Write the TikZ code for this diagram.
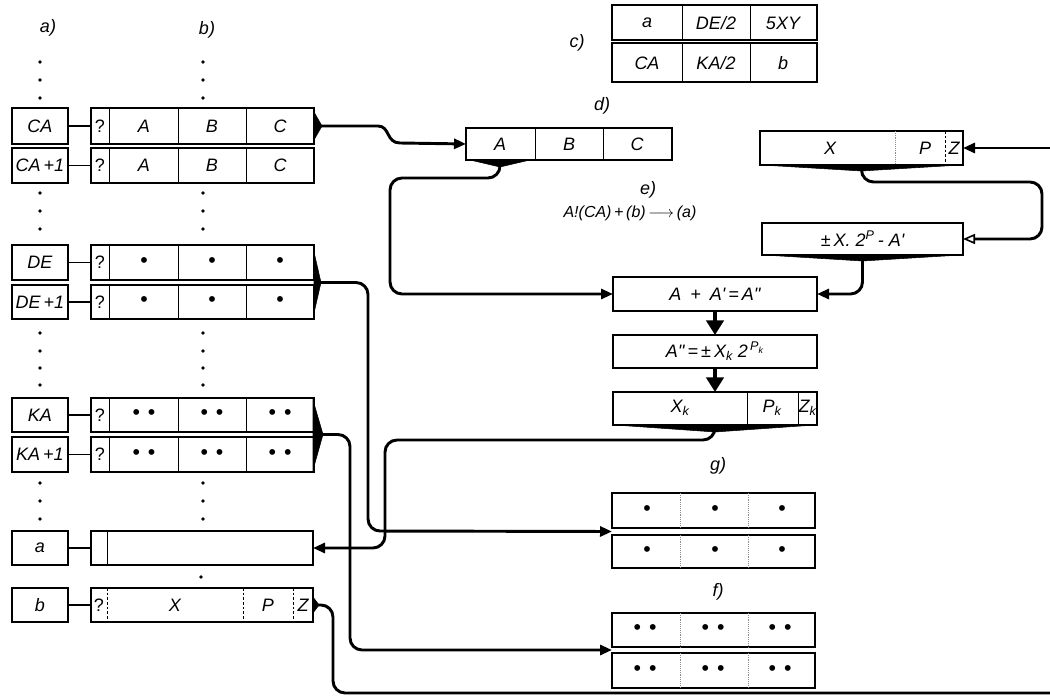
\documentclass[tikz,border=0pt]{standalone}
\usepackage{fontspec}
\newfontfamily\lab{Liberation Sans}
\usetikzlibrary{arrows.meta,calc}
\tikzset{
 box/.style={draw, line width=1.1pt, inner sep=0pt, outer sep=0pt},
 div/.style={line width=0.7pt},
 ddiv/.style={line width=0.7pt, dash pattern=on 2pt off 1.5pt},
 faint/.style={line width=0.4pt, densely dotted, black!45},
 link/.style={line width=0.9pt},
 conn/.style={line width=2.2pt, rounded corners=9pt},
 arr/.style={-{Triangle[length=9pt,width=7.5pt]}},
 oarr/.style={-{Triangle[open,length=9pt,width=7.5pt,line width=1.2pt]}},
 darr/.style={line width=2.6pt,-{Triangle[length=11pt,width=13pt]}},
 wedge/.style={fill=black, draw=black, line width=0.4pt},
 txt/.style={inner sep=0pt},
}
% \bx{name}{x1}{y1}{x2}{y2}{text}
\newcommand\bx[6]{%
  \node[box, minimum width={(#4-#2)*0.75pt}, minimum height={(#5-#3)*0.75pt}]
    (#1) at ({(#2+#4)/2},{(#3+#5)/2}) {#6};}
\newcommand\wordrow[7]{%
  \bx{#1addr}{12}{#2}{68}{#3}{#4}
  \bx{#1}{91}{#2}{314}{#3}{}
  \draw[link] (#1addr.east) -- (#1.west);
  \draw[div] (109,#2) -- (109,#3) (178,#2) -- (178,#3) (246,#2) -- (246,#3);
  \path (#1.west) ++(9,0) node[txt] (#1q) {\upshape ?};
  \path (#1.west) ++(53,0) node[txt] (#1A) {#5};
  \path (#1.west) ++(121,0) node[txt] (#1B) {#6};
  \path (#1.west) ++(189,0) node[txt] (#1C) {#7};
}
\newcommand\one{{\upshape\fontsize{16}{16}\selectfont\textbullet}}
\newcommand\two{{\upshape\fontsize{16}{16}\selectfont\textbullet\hspace{6pt}\textbullet}}
\begin{document}
\begin{tikzpicture}[x=0.75pt,y=-0.75pt, font=\lab\itshape\fontsize{13.5}{16}\selectfont]
\useasboundingbox (0,0) rectangle (1050,698);

% column labels
\node[txt] (la) at (48,28) {a)};
\node[txt] (lb) at (207,30) {b)};

% vertical dots
\foreach \y in {62,80,98,193,211,229,333,351,368,385,483,501,519}{
  \fill (40,\y) circle (1.4pt);
  \fill (203,\y) circle (1.4pt);
}
\fill (201,577) circle (1.4pt);

% memory rows
\wordrow{ca}{108}{144}{CA}{A}{B}{C}
\wordrow{cap}{148}{183}{CA\,+1}{A}{B}{C}
\wordrow{de}{245}{280}{DE}{\one}{\one}{\one}
\wordrow{dep}{285}{319}{DE\,+1}{\one}{\one}{\one}
\wordrow{ka}{398}{432}{KA}{\two}{\two}{\two}
\wordrow{kap}{437}{472}{KA\,+1}{\two}{\two}{\two}

% row a
\bx{aaddr}{12}{531}{68}{565}{a}
\bx{a}{91}{531}{313}{565}{}
\draw[link] (aaddr.east) -- (a.west);
\draw[div] (107,531) -- (107,565);

% row b
\bx{baddr}{12}{588}{68}{622}{b}
\bx{b}{91}{588}{313}{622}{}
\draw[link] (baddr.east) -- (b.west);
\draw[ddiv] (107,588) -- (107,622) (243,588) -- (243,622) (293,588) -- (293,622);
\path (b.west) ++(8,0) node[txt] (bq) {\upshape ?};
\node[txt] (bX) at (175,605) {X};
\node[txt] (bP) at (268,605) {P};
\node[txt] (bZ) at (303,605) {Z};

% wedges on memory rows
\fill[wedge] (314,112) -- (322,126) -- (314,140) -- cycle;
\fill[wedge] (314,252) -- (321,282.5) -- (314,313) -- cycle;
\fill[wedge] (313,400) -- (323,434.5) -- (313,470) -- cycle;
\fill[wedge] (313,597) -- (319,605) -- (313,613) -- cycle;

% c) table
\node[txt] (lc) at (577,43) {c)};
\bx{c1}{612}{5}{817}{40}{}
\bx{c2}{612}{43}{817}{82}{}
\draw[div] (682,5) -- (682,40) (750,5) -- (750,40) (682,43) -- (682,82) (750,43) -- (750,82);
\node[txt] (c11) at (647,23) {a};
\node[txt] (c12) at (716,23) {DE/2};
\node[txt] (c13) at (783,23) {5XY};
\node[txt] (c21) at (647,63) {CA};
\node[txt] (c22) at (716,63) {KA/2};
\node[txt] (c23) at (783,63) {b};

% d) register
\node[txt] (ld) at (602,106) {d)};
\bx{d}{466}{128}{672}{160}{}
\draw[div] (535,128) -- (535,160) (603,128) -- (603,160);
\node[txt] (dA) at (500,144) {A};
\node[txt] (dB) at (569,144) {B};
\node[txt] (dC) at (637,144) {C};
\fill[wedge] (470,160) -- (500,167) -- (530,160) -- cycle;

% e) formula
\node[txt] (le) at (648,190) {e)};
\node[txt, font=\lab\itshape\fontsize{12}{14}\selectfont] (form) at (630,213) {A!(CA)\,+\,(b)\,$\longrightarrow$\,(a)};

% right chain
\bx{xp}{760}{131}{963}{165}{}
\draw[faint] (895,131) -- (895,165);
\draw[ddiv] (945,131) -- (945,165);
\node[txt] (xpX) at (830,148) {X};
\node[txt] (xpP) at (925,148) {P};
\node[txt] (xpZ) at (954,148) {Z};
\fill[wedge] (762,165) -- (861.5,171) -- (961,165) -- cycle;

\bx{pm}{762}{223}{963}{255}{{\upshape±}\,X.\;2\textsuperscript{P}\,-\;A'}
\fill[wedge] (764,255) -- (862.5,261) -- (961,255) -- cycle;

\bx{sum}{613}{277}{817}{311}{A\enspace+\enspace A'\,=\,A''}
\bx{norm}{613}{335}{817}{368}{A''\,=\,{\upshape±}\,X\textsubscript{k}\;2\textsuperscript{\,P\textsubscript{k}}}
\bx{xk}{613}{392}{817}{425}{}
\draw[div] (747,392) -- (747,425) (798,392) -- (798,425);
\node[txt] (xkX) at (680,408) {X\textsubscript{k}};
\node[txt] (xkP) at (772,408) {P\textsubscript{k}};
\node[txt] (xkZ) at (807.5,408) {Z\textsubscript{k}};
\fill[wedge] (615,425) -- (715,432) -- (815,425) -- cycle;

% g) and f) blocks
\node[txt] (lg) at (718,466) {g)};
\bx{g1}{612}{493}{815}{528}{}
\bx{g2}{612}{535}{815}{568}{}
\node[txt] (lf) at (718,592) {f)};
\bx{f1}{612}{613}{815}{647}{}
\bx{f2}{612}{653}{815}{688}{}
\foreach \r in {g1,g2,f1,f2}{
  \draw[faint] (\r.north west -| 680,0) -- (\r.south west -| 680,0);
  \draw[faint] (\r.north west -| 748,0) -- (\r.south west -| 748,0);
}
\foreach \r in {g1,g2}{
  \path (\r.west) ++(35,0) node[txt] {\one} ++(68,0) node[txt] {\one} ++(67,0) node[txt] {\one};
}
\foreach \r in {f1,f2}{
  \path (\r.west) ++(33,0) node[txt] {\two} ++(68,0) node[txt] {\two} ++(67,0) node[txt] {\two};
}

% connectors
\coordinate (inR) at (1050,148);
\coordinate (outR) at (1050,693);
\draw[line width=2.2pt, arr] (ca.east) -- (378,126) .. controls (390,126) and (386,143) .. (400,143) -- (d.west);
\draw[conn, arr] (dA |- d.south) -- (500,178) -- (390,178) -- (390,294) -- (sum.west);
\draw[line width=2.2pt, arr] (inR) -- (xp.east);
\draw[conn, oarr] (xp.south) -- (861.5,182) -- (1042,182) -- (1042,239) -- (pm.east);
\draw[conn, arr] (pm.south) -- (862.5,294) -- (sum.east);
\draw[darr] (sum.south) -- (norm.north);
\draw[darr] (norm.south) -- (xk.north);
\draw[conn, arr] (xk.south) -- (715,440) -- (385,440) -- (385,548) -- (a.east);
\draw[conn, arr] ($(de.south east)!0.5!(dep.north east)$) -- (368,282.5) -- (368,531) -- ($(g1.south west)!0.5!(g2.north west)$);
\draw[conn, arr] ($(ka.south east)!0.5!(kap.north east)$) -- (350,434.5) -- (350,650) -- ($(f1.south west)!0.5!(f2.north west)$);
\draw[conn] (b.east) -- (333,605) -- (333,693) -- (outR);
\end{tikzpicture}
\end{document}
